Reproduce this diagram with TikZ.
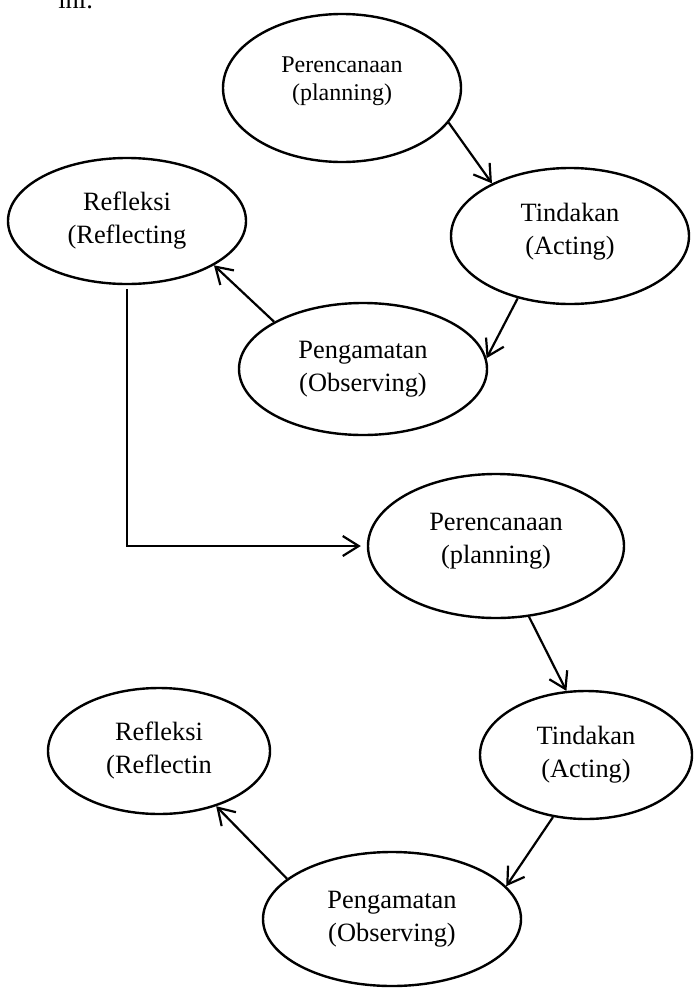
\documentclass[tikz,border=0pt]{standalone}
\usepackage{fontspec}
\setmainfont{Liberation Serif}
\usetikzlibrary{shapes.geometric,arrows.meta}

\begin{document}
\begin{tikzpicture}[x=0.5pt,y=-0.5pt,
   phase/.style={draw,ellipse,line width=1.2pt,inner sep=0pt,align=center,
     font=\fontsize{13.2}{16.5}\selectfont},
   link/.style={line width=1.1pt,-{Straight Barb[length=8pt,width=10pt]}}]
   \useasboundingbox (0,0) rectangle (694,991);
   \clip (0,0) rectangle (694,991);
   \node[anchor=base west,inner sep=0pt,font=\fontsize{13.2}{16.5}\selectfont] (ini) at (58,8) {ini.};
   % first cycle
   \node[phase,minimum width=119pt,minimum height=74pt,text depth=9.6pt,
     font=\fontsize{12}{14}\selectfont] (plan1) at (342,88) {Perencanaan\\(planning)};
   \node[phase,minimum width=119pt,minimum height=68pt,text depth=7.5pt] (act1) at (570,236) {Tindakan\\(Acting)};
   \node[phase,minimum width=124pt,minimum height=66pt] (obs1) at (363,369) {Pengamatan\\(Observing)};
   \node[phase,minimum width=119pt,minimum height=63pt] (refl1) at (127,221) {Refleksi\\(Reflecting};
   % second cycle
   \node[phase,minimum width=128pt,minimum height=72pt,text depth=7.5pt] (plan2) at (496,546) {Perencanaan\\(planning)};
   \node[phase,minimum width=106pt,minimum height=64pt] (act2) at (586,755) {Tindakan\\(Acting)};
   \node[phase,minimum width=129pt,minimum height=67pt] (obs2) at (392,919) {Pengamatan\\(Observing)};
   \node[phase,minimum width=111pt,minimum height=63pt] (refl2) at (159,751) {Refleksi\\(Reflectin};
   % arrows
   \draw[link] (plan1.-18) -- (act1.146);
   \draw[link] (act1.-130) -- (obs1.5);
   \draw[link] (obs1.152) -- (refl1.-27);
   \draw[link,shorten <=2pt,shorten >=3pt] (refl1.south) |- (plan2);
   \draw[link] (plan2.-65) -- (act2.107);
   \draw[link] (act2.-118) -- (obs2.16);
   \draw[link] (obs2.159) -- (refl2.-44);
\end{tikzpicture}
\end{document}
